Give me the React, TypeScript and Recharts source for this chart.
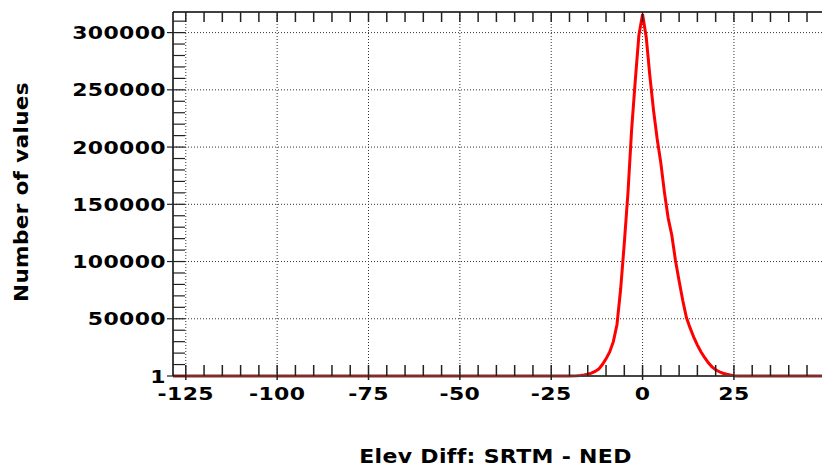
import { LineChart, Line, XAxis, YAxis, ReferenceLine, Label } from 'recharts';

// histogram of elevation differences (SRTM minus NED), in metres
const diffBins = [
  -130, -20, -18, -17, -16, -15, -14, -13, -12, -11, -10, -9, -8, -7, -6, -5, -4, -3, -2, -1,
  0, 1, 2, 3, 4, 5, 6, 7, 8, 9, 10, 11, 12, 13, 14, 15, 16, 17, 18, 19, 20, 21, 22, 23, 24,
  25, 26, 27, 50,
];
const counts = [
  1, 1, 200, 400, 800, 1500, 2500, 4000, 6000, 10000, 15000, 21000, 30000, 45000, 76000,
  116000, 160000, 215000, 258000, 298000, 316000, 296000, 262000, 232000, 207000, 186000,
  160000, 138000, 123000, 101000, 83000, 66000, 51000, 42000, 34000, 27000, 21000, 16000,
  11500, 8000, 5500, 3700, 2400, 1500, 800, 300, 100, 1, 1,
];

const xLabelTicks = [-125, -100, -75, -50, -25, 0, 25];
const xTicks = [
  -125, -120, -115, -110, -105, -100, -95, -90, -85, -80, -75, -70, -65, -60, -55, -50, -45,
  -40, -35, -30, -25, -20, -15, -10, -5, 0, 5, 10, 15, 20, 25, 30, 35, 40, 45,
];
const yLabelTicks = [1, 50000, 100000, 150000, 200000, 250000, 300000];
const yTicks = [
  1, 10000, 20000, 30000, 40000, 50000, 60000, 70000, 80000, 90000, 100000, 110000, 120000,
  130000, 140000, 150000, 160000, 170000, 180000, 190000, 200000, 210000, 220000, 230000,
  240000, 250000, 260000, 270000, 280000, 290000, 300000, 310000,
];
const yGrid = [50000, 100000, 150000, 200000, 250000, 300000];

const data = diffBins.map((d, i) => ({ diff: d, count: counts[i] }));

const font = {
  fontFamily: '"DejaVu Sans", Verdana, sans-serif',
  fontWeight: 'bold' as const,
  fill: '#000',
};

// wide bold tick text, stretched horizontally like the original's font
function WideText({ x, y, anchor, size, sx, children }: any) {
  return (
    <g transform={`translate(${x},${y}) scale(${sx},1)`}>
      <text x={0} y={0} textAnchor={anchor} style={{ ...font, fontSize: size, letterSpacing: 0.3 }}>
        {children}
      </text>
    </g>
  );
}

function BottomTick(props: any) {
  const { x, y, payload } = props;
  const major = xLabelTicks.includes(payload.value);
  return (
    <g>
      <line x1={x} x2={x} y1={y - 11} y2={y + (major ? 4 : 0)} stroke="#222" strokeWidth={1.5} />
      {major && (
        <WideText x={x} y={y + 24} anchor="middle" size={18} sx={1.22}>
          {payload.value}
        </WideText>
      )}
    </g>
  );
}

function TopTick(props: any) {
  const { x, y } = props;
  return <line x1={x} x2={x} y1={y} y2={y + 10} stroke="#222" strokeWidth={1.5} />;
}

function LeftTick(props: any) {
  const { x, y, payload } = props;
  const major = yLabelTicks.includes(payload.value);
  return (
    <g>
      <line x1={x - (major ? 6 : 0)} x2={x + 12} y1={y} y2={y} stroke="#222" strokeWidth={1.2} />
      {major && (
        <WideText x={x - 7} y={y + 6.5} anchor="end" size={18} sx={1.22}>
          {payload.value}
        </WideText>
      )}
    </g>
  );
}

export default function App() {
  return (
    <div style={{ position: 'absolute', left: 0, top: 0, background: '#fff' }}>
      <LineChart width={822} height={468} data={data} margin={{ top: 0, right: 0, bottom: 0, left: 0 }}>
        <XAxis
          xAxisId="t"
          orientation="top"
          dataKey="diff"
          type="number"
          domain={[-128.5, 49.1]}
          allowDataOverflow
          ticks={xTicks}
          interval={0}
          height={12}
          tickSize={0}
          tickMargin={0}
          tickLine={false}
          tick={TopTick}
          axisLine={{ stroke: '#000', strokeWidth: 1.5 }}
        />
        <XAxis
          xAxisId="b"
          dataKey="diff"
          type="number"
          domain={[-128.5, 49.1]}
          allowDataOverflow
          ticks={xTicks}
          interval={0}
          height={92}
          tickSize={0}
          tickMargin={0}
          tickLine={false}
          tick={BottomTick}
          axisLine={{ stroke: '#444', strokeWidth: 2 }}
        >
          <Label
            content={(p: any) => (
              <WideText x={p.viewBox.x + p.viewBox.width / 2 - 2} y={p.viewBox.y + 87} anchor="middle" size={20} sx={1.1}>
                Elev Diff: SRTM - NED
              </WideText>
            )}
          />
        </XAxis>
        <YAxis
          yAxisId="l"
          type="number"
          domain={[1, 318000]}
          ticks={yTicks}
          interval={0}
          width={173}
          tickSize={0}
          tickMargin={0}
          tickLine={false}
          tick={LeftTick}
          axisLine={{ stroke: '#000', strokeWidth: 1.5 }}
        >
          <Label
            content={(p: any) => {
              const cx = p.viewBox.x + 28;
              const cy = p.viewBox.y + p.viewBox.height / 2 - 2;
              return (
                <g transform={`rotate(-90, ${cx}, ${cy})`}>
                  <WideText x={cx} y={cy} anchor="middle" size={20} sx={1.08}>
                    Number of values
                  </WideText>
                </g>
              );
            }}
          />
        </YAxis>
        {xLabelTicks.map((v) => (
          <ReferenceLine key={'x' + v} x={v} xAxisId="b" yAxisId="l" stroke="#333" strokeDasharray="1 2" />
        ))}
        {yGrid.map((v) => (
          <ReferenceLine key={'y' + v} y={v} xAxisId="b" yAxisId="l" stroke="#333" strokeDasharray="1 2" />
        ))}
        <Line
          xAxisId="b"
          yAxisId="l"
          type="linear"
          dataKey="count"
          stroke="#ff0000"
          strokeWidth={3}
          dot={false}
          isAnimationActive={false}
        />
      </LineChart>
    </div>
  );
}
